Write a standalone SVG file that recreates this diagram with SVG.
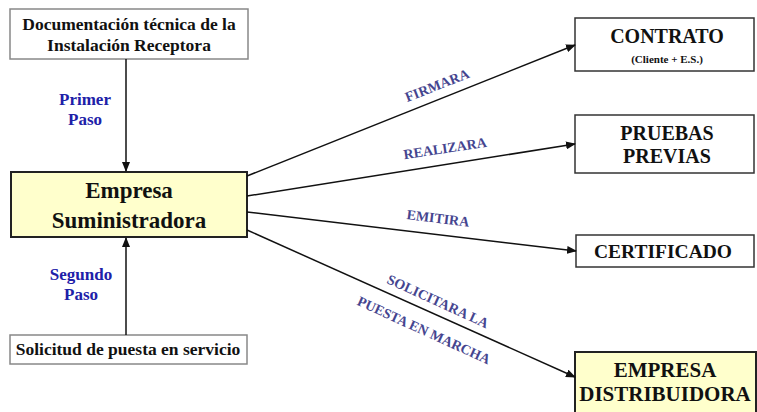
<svg xmlns="http://www.w3.org/2000/svg" width="757" height="412" viewBox="0 0 757 412">
<style>
.box{fill:#fff;stroke:#333;stroke-width:1.5}
.gbox{fill:#fff;stroke:#888;stroke-width:1.5}
.ybox{fill:#FFFFCC;stroke:#222;stroke-width:2}
text{font-family:'Liberation Serif','Times New Roman',Times,serif;font-weight:bold}
.t{fill:#111;text-anchor:middle}
.step{fill:#2020A8;text-anchor:middle;font-size:17px}
.lbl{fill:#45458F;text-anchor:middle;font-size:14px}
.ln{stroke:#111;stroke-width:1.5;fill:none;marker-end:url(#ah)}
</style>
<defs>
<marker id="ah" markerWidth="10" markerHeight="8" refX="9" refY="4" orient="auto" markerUnits="userSpaceOnUse">
<path d="M0,0 L10,4 L0,8 Z" fill="#111"/>
</marker>
</defs>
<g id="doc">
<rect class="gbox" x="10" y="9" width="238" height="50"/>
<text class="t" x="129" y="30" font-size="17.5">Documentación técnica de la</text>
<text class="t" x="129" y="51" font-size="17.5">Instalación Receptora</text>
</g>
<g id="empresa">
<rect class="ybox" x="11" y="172" width="236" height="65"/>
<text class="t" x="129" y="198" font-size="23">Empresa</text>
<text class="t" x="129" y="228" font-size="23">Suministradora</text>
</g>
<g id="solicitud">
<rect class="gbox" x="10" y="335" width="237" height="29"/>
<text class="t" x="128" y="355" font-size="17.5">Solicitud de puesta en servicio</text>
</g>
<g id="contrato">
<rect class="box" x="575" y="18" width="179" height="53"/>
<text class="t" x="667" y="43" font-size="20">CONTRATO</text>
<text class="t" x="667" y="63" font-size="11">(Cliente + E.S.)</text>
</g>
<g id="pruebas">
<rect class="box" x="575" y="115" width="179" height="58"/>
<text class="t" x="667" y="140" font-size="20">PRUEBAS</text>
<text class="t" x="667" y="163" font-size="20">PREVIAS</text>
</g>
<g id="certificado">
<rect class="box" x="576" y="235" width="178" height="32"/>
<text class="t" x="663" y="258" font-size="19.5">CERTIFICADO</text>
</g>
<g id="distribuidora">
<rect class="ybox" x="575" y="352" width="181" height="64"/>
<text class="t" x="665" y="377" font-size="21">EMPRESA</text>
<text class="t" x="665" y="401" font-size="21">DISTRIBUIDORA</text>
</g>
<g id="steps">
<text class="step" x="85" y="105">Primer</text>
<text class="step" x="85" y="125">Paso</text>
<text class="step" x="81" y="280">Segundo</text>
<text class="step" x="81" y="300">Paso</text>
</g>
<g id="connectors">
<line class="ln" x1="126" y1="59" x2="126" y2="171"/>
<line class="ln" x1="126" y1="335" x2="126" y2="238"/>
<line class="ln" x1="247" y1="176" x2="575" y2="45"/>
<line class="ln" x1="247" y1="196" x2="575" y2="144"/>
<line class="ln" x1="247" y1="212" x2="576" y2="251"/>
<line class="ln" x1="247" y1="230" x2="575" y2="377"/>
<text class="lbl" transform="translate(437,85) rotate(-21.5)" y="5">FIRMARA</text>
<text class="lbl" transform="translate(445,148) rotate(-8.5)" y="5">REALIZARA</text>
<text class="lbl" transform="translate(438,218) rotate(7)" y="5">EMITIRA</text>
<text class="lbl" transform="translate(438,301) rotate(24.5)" y="5">SOLICITARA LA</text>
<text class="lbl" transform="translate(424,330) rotate(24.5)" y="5">PUESTA EN MARCHA</text>
</g>
</svg>
